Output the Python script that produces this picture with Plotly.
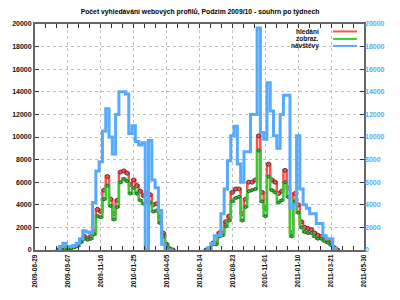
import plotly.graph_objects as go

# ---- data ----
tick_vals = [0, 10, 20, 30, 40, 50, 60, 70, 80, 90, 100]
tick_text = ["2009-06-29", "2009-09-07", "2009-11-16", "2010-01-25", "2010-04-05",
             "2010-06-14", "2010-08-23", "2010-11-01", "2011-01-10", "2011-03-21", "2011-05-30"]

x1 = list(range(7, 43))
red1 = [0, 100, 150, 150, 200, 300, 400, 800, 1200, 1000, 1200, 1600, 3600, 3400, 5300, 6500,
        4500, 3200, 4400, 6900, 7000, 6800, 5800, 6200, 5700, 5200, 4800, 5000, 4900, 4000,
        4100, 2900, 1500, 500, 100, 0]
green1 = [0, 80, 120, 130, 170, 250, 350, 700, 1000, 900, 1000, 1400, 3000, 2900, 4500, 5700,
          3900, 2700, 3800, 6000, 6300, 6100, 5000, 5500, 5000, 4400, 4100, 4300, 4200, 3400,
          3500, 2400, 1200, 400, 80, 0]
blue1 = [0, 300, 600, 300, 300, 400, 600, 1000, 1700, 1600, 1500, 4200, 7000, 7800, 10500, 12500,
         10000, 8500, 12000, 14000, 14000, 13800, 10300, 11000, 9600, 9300, 9500, 0, 9700, 6200,
         5500, 3500, 500, 0, 0, 0]

x2 = list(range(52, 93))
red2 = [0, 100, 600, 600, 1500, 1500, 2500, 3000, 5100, 5400, 5400, 3200, 4500, 6000, 6000, 6200,
        10100, 5100, 3700, 7600, 6200, 6000, 5000, 5200, 7050, 5500, 1500, 5000, 4000, 2500, 2000,
        1900, 1800, 1500, 1300, 1200, 1000, 800, 600, 200, 0]
green2 = [0, 80, 500, 500, 1200, 1300, 2100, 2600, 4300, 4600, 4700, 2600, 3800, 5200, 5300, 5400,
          8800, 4300, 3000, 6500, 5300, 5100, 4200, 4400, 6000, 4700, 1200, 4300, 3300, 2000, 1600,
          1500, 1500, 1200, 1000, 1000, 800, 650, 450, 150, 0]
blue2 = [0, 200, 580, 1250, 1300, 3200, 5400, 7900, 10100, 10950, 7600, 6000, 8700, 8700, 12000,
         12000, 19650, 10400, 9800, 14800, 12300, 10100, 9000, 12000, 13700, 13700, 3700, 4000,
         10100, 5400, 4000, 3700, 3200, 3200, 2350, 2350, 1250, 1000, 1000, 150, 0]

series_names = ["hledání", "zobraz.", "návštěvy"]
title_text = "Počet vyhledávání webových profilů, Podzim 2009/10 - souhrn po týdnech"

RED = "#ff5050"
GREEN = "#33cc33"
BLUE = "#55aaff"
FAM = "Liberation Sans, Arial, sans-serif"

x_all = x1 + [None] + x2
def join(a, b):
    return a + [None] + b

fig = go.Figure()
fig.add_trace(go.Scatter(x=x_all, y=join(blue1, blue2), yaxis="y2", mode="lines",
                         line=dict(color=BLUE, width=3, shape="hvh"), name=series_names[2],
                         showlegend=False, connectgaps=False))
fig.add_trace(go.Scatter(x=x_all, y=join(red1, red2), mode="lines+markers",
                         line=dict(color=RED, width=2.5, shape="hvh"),
                         marker=dict(size=4, color=RED, line=dict(color="#553333", width=1)),
                         name=series_names[0], showlegend=False, connectgaps=False))
fig.add_trace(go.Scatter(x=x_all, y=join(green1, green2), mode="lines+markers",
                         line=dict(color=GREEN, width=2.5, shape="hvh"),
                         marker=dict(size=3, color=GREEN, line=dict(color="#335533", width=1)),
                         name=series_names[1], showlegend=False, connectgaps=False))

tf = dict(family=FAM, size=7, color="#111", weight="bold")

fig.update_layout(
    width=400, height=300,
    margin=dict(l=33, r=36, t=24, b=35),
    paper_bgcolor="white", plot_bgcolor="white",
    title=dict(text="<b>" + title_text + "</b>", x=0.5, xanchor="center", y=0.96, yanchor="middle",
               font=dict(family=FAM, size=6.8, color="#000")),
    xaxis=dict(range=[0, 100], tickvals=tick_vals, ticktext=tick_text, tickangle=-90,
               showgrid=True, gridcolor="#c0c0c0", griddash="dot", gridwidth=1,
               showline=True, linecolor="#666", linewidth=2, mirror="allticks",
               ticks="inside", ticklen=4, tickcolor="#333", zeroline=False,
               minor=dict(dtick=10/3, ticks="inside", ticklen=2, tickcolor="#333", showgrid=False),
               tickfont=dict(family=FAM, size=6.5, color="#111", weight="bold")),
    yaxis=dict(range=[0, 20000], dtick=2000, tickformat="d", showgrid=True, gridcolor="#c0c0c0",
               griddash="dot", showline=True, linecolor="#666", linewidth=2, mirror=True,
               ticks="inside", ticklen=4, tickcolor="#333", zeroline=False, tickfont=tf),
    yaxis2=dict(range=[0, 20000], dtick=2000, tickformat="d", overlaying="y", side="right",
                showgrid=False, ticks="inside", ticklen=4, tickcolor="#333", zeroline=False,
                showline=False, tickfont=dict(family=FAM, size=7, color=BLUE, weight="bold")),
)

# legend drawn gnuplot-style: text then line sample
rows = [0.967, 0.934, 0.903]
cols = [RED, GREEN, BLUE]
for name, yy, c in zip(series_names, rows, cols):
    fig.add_annotation(xref="paper", yref="paper", x=0.87, y=yy, text="<b>" + name + "</b>",
                       showarrow=False, xanchor="right", yanchor="middle",
                       font=dict(family=FAM, size=6.5, color="#111"))
    fig.add_shape(type="line", xref="paper", yref="paper", x0=0.906, x1=0.979, y0=yy, y1=yy,
                  line=dict(color=c, width=2))

fig.write_html("out.html")
